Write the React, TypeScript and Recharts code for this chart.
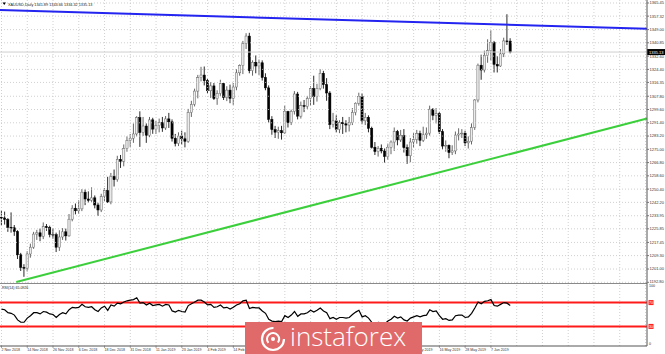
import React from "react";
import { ComposedChart, Bar, Line, XAxis, YAxis, ReferenceLine } from "recharts";

// ---------- data ----------
const opens = [
  1233.0, 1232.6, 1231.6, 1226.8, 1226.5, 1224.2, 1209.8, 1202.0, 1201.5, 1210.3,
  1214.5, 1222.6, 1223.4, 1221.2, 1227.2, 1226.6, 1222.5, 1222.2, 1214.5, 1220.8,
  1224.0, 1221.5, 1231.8, 1238.6, 1237.0, 1238.2, 1248.5, 1244.3, 1243.5, 1245.0,
  1240.6, 1237.5, 1245.8, 1249.5, 1242.5, 1258.3, 1256.2, 1268.8, 1267.6, 1275.5,
  1280.5, 1281.8, 1284.5, 1294.6, 1285.4, 1289.4, 1283.6, 1293.2, 1287.5, 1289.6,
  1291.5, 1288.2, 1293.8, 1292.0, 1281.8, 1278.6, 1283.2, 1281.5, 1280.0, 1297.8,
  1302.8, 1311.0, 1319.3, 1320.9, 1317.4, 1311.2, 1314.2, 1306.3, 1309.5, 1315.6,
  1307.0, 1311.6, 1306.5, 1313.5, 1322.3, 1326.8, 1340.4, 1345.0, 1323.6, 1328.8,
  1326.5, 1328.5, 1319.4, 1313.0, 1293.5, 1287.2, 1285.6, 1286.5, 1285.2, 1298.4,
  1291.5, 1298.5, 1309.2, 1295.5, 1302.0, 1301.5, 1306.4, 1312.5, 1307.5, 1312.6,
  1322.0, 1315.0, 1309.8, 1290.3, 1292.6, 1287.3, 1291.6, 1290.8, 1290.0, 1291.5,
  1297.8, 1303.5, 1307.8, 1292.6, 1294.8, 1288.0, 1276.3, 1273.6, 1275.6, 1274.0,
  1270.5, 1276.2, 1279.5, 1286.0, 1280.8, 1283.5, 1276.0, 1271.0, 1279.5, 1281.0,
  1284.8, 1280.6, 1284.0, 1285.0, 1299.8, 1296.0, 1297.0, 1286.0, 1277.0, 1277.5,
  1273.0, 1274.0, 1283.8, 1284.5, 1285.0, 1279.0, 1280.0, 1288.5, 1305.5, 1327.0,
  1324.0, 1333.0, 1336.0, 1341.0, 1327.5, 1326.5, 1334.0, 1342.0, 1341.89,
];
const highs = [
  1237.2, 1236.5, 1232.5, 1236.0, 1228.2, 1225.0, 1211.0, 1204.0, 1212.0, 1216.7,
  1224.0, 1225.2, 1226.0, 1229.8, 1228.8, 1227.8, 1226.2, 1223.5, 1225.0, 1226.3,
  1226.0, 1235.0, 1240.5, 1241.5, 1243.5, 1250.4, 1250.2, 1249.0, 1251.5, 1246.5,
  1242.0, 1247.5, 1251.0, 1258.0, 1260.4, 1262.5, 1271.0, 1271.5, 1278.0, 1283.0,
  1284.5, 1291.0, 1295.5, 1298.5, 1295.0, 1291.0, 1295.0, 1294.5, 1292.5, 1294.0,
  1295.0, 1295.6, 1297.5, 1293.5, 1284.5, 1285.5, 1286.5, 1285.5, 1300.0, 1305.0,
  1312.5, 1321.0, 1326.0, 1326.2, 1318.6, 1316.5, 1316.0, 1311.5, 1318.0, 1316.0,
  1314.0, 1315.0, 1316.0, 1324.5, 1327.5, 1342.0, 1346.8, 1347.0, 1330.0, 1333.0,
  1330.5, 1330.0, 1322.0, 1314.5, 1295.5, 1289.5, 1289.0, 1289.5, 1302.0, 1298.8,
  1299.5, 1311.0, 1310.5, 1304.5, 1305.5, 1308.0, 1314.0, 1320.5, 1315.5, 1324.5,
  1323.5, 1319.0, 1311.0, 1297.5, 1296.0, 1293.0, 1295.0, 1293.0, 1295.0, 1300.5,
  1304.0, 1310.0, 1309.5, 1297.5, 1296.0, 1289.0, 1279.5, 1277.0, 1278.0, 1275.5,
  1278.5, 1280.5, 1288.5, 1287.0, 1287.0, 1287.5, 1278.0, 1282.0, 1285.0, 1287.0,
  1286.5, 1289.0, 1288.5, 1302.0, 1300.5, 1300.5, 1298.0, 1287.5, 1280.5, 1278.0,
  1277.5, 1286.0, 1288.0, 1287.5, 1286.5, 1283.0, 1291.0, 1306.0, 1328.0, 1333.5,
  1336.0, 1343.0, 1348.5, 1342.0, 1332.5, 1337.0, 1344.0, 1358.5, 1343.66,
];
const lows = [
  1228.0, 1228.5, 1224.0, 1223.5, 1221.5, 1207.2, 1199.8, 1196.2, 1199.5, 1208.0,
  1213.5, 1219.0, 1218.2, 1219.5, 1224.6, 1220.6, 1219.8, 1211.5, 1212.2, 1219.0,
  1218.6, 1221.0, 1230.5, 1234.8, 1235.0, 1236.8, 1240.5, 1242.0, 1242.5, 1238.5,
  1233.8, 1236.2, 1243.0, 1241.8, 1241.0, 1252.0, 1255.0, 1263.5, 1264.5, 1273.5,
  1276.5, 1279.0, 1283.0, 1276.5, 1283.2, 1279.0, 1282.5, 1284.6, 1284.5, 1285.5,
  1285.8, 1287.0, 1288.2, 1279.8, 1276.8, 1277.0, 1278.0, 1276.2, 1279.0, 1295.0,
  1301.5, 1306.5, 1317.0, 1314.5, 1309.5, 1306.8, 1305.5, 1302.5, 1308.0, 1305.5,
  1304.8, 1303.5, 1302.5, 1311.5, 1320.5, 1321.5, 1337.0, 1322.0, 1320.5, 1322.0,
  1321.0, 1317.5, 1311.5, 1291.5, 1284.0, 1282.0, 1281.5, 1281.0, 1284.5, 1288.5,
  1290.0, 1296.5, 1293.5, 1294.0, 1298.0, 1300.0, 1302.0, 1302.5, 1304.5, 1311.5,
  1312.5, 1305.0, 1287.5, 1288.5, 1285.5, 1285.0, 1284.5, 1285.5, 1286.0, 1290.0,
  1296.0, 1302.0, 1290.5, 1290.0, 1285.5, 1275.5, 1271.5, 1270.5, 1272.5, 1266.8,
  1268.5, 1272.0, 1274.0, 1277.5, 1279.5, 1273.0, 1266.0, 1267.0, 1276.0, 1278.5,
  1277.0, 1279.5, 1281.5, 1283.5, 1293.0, 1291.0, 1284.5, 1275.0, 1273.5, 1269.5,
  1271.5, 1272.0, 1280.5, 1282.0, 1277.0, 1275.5, 1278.0, 1287.0, 1304.0, 1318.0,
  1322.5, 1328.5, 1330.0, 1322.5, 1322.5, 1326.0, 1332.0, 1339.5, 1334.32,
];
const closes = [
  1232.6, 1231.6, 1226.8, 1226.5, 1224.2, 1209.8, 1202.0, 1201.5, 1210.3, 1214.5,
  1222.6, 1223.4, 1221.2, 1227.2, 1226.6, 1222.5, 1222.2, 1214.5, 1220.8, 1224.0,
  1221.5, 1231.8, 1238.6, 1237.0, 1238.2, 1248.5, 1244.3, 1243.5, 1245.0, 1240.6,
  1237.5, 1245.8, 1249.5, 1242.5, 1258.3, 1256.2, 1268.8, 1267.6, 1275.5, 1280.5,
  1281.8, 1284.5, 1294.6, 1285.4, 1289.4, 1283.6, 1293.2, 1287.5, 1289.6, 1291.5,
  1288.2, 1293.8, 1292.0, 1281.8, 1278.6, 1283.2, 1281.5, 1280.0, 1297.8, 1302.8,
  1311.0, 1319.3, 1320.9, 1317.4, 1311.2, 1314.2, 1306.3, 1309.5, 1315.6, 1307.0,
  1311.6, 1306.5, 1313.5, 1322.3, 1326.8, 1340.4, 1345.0, 1323.6, 1328.8, 1326.5,
  1328.5, 1319.4, 1313.0, 1293.5, 1287.2, 1285.6, 1286.5, 1285.2, 1298.4, 1291.5,
  1298.5, 1309.2, 1295.5, 1302.0, 1301.5, 1306.4, 1312.5, 1307.5, 1312.6, 1322.0,
  1315.0, 1309.8, 1290.3, 1292.6, 1287.3, 1291.6, 1290.8, 1290.0, 1291.5, 1297.8,
  1303.5, 1307.8, 1292.6, 1294.8, 1288.0, 1276.3, 1273.6, 1275.6, 1274.0, 1270.5,
  1276.2, 1279.5, 1286.0, 1280.8, 1283.5, 1276.0, 1271.0, 1279.5, 1281.0, 1284.8,
  1280.6, 1284.0, 1285.0, 1299.8, 1296.0, 1297.0, 1286.0, 1277.0, 1277.5, 1273.0,
  1274.0, 1283.8, 1284.5, 1285.0, 1279.0, 1280.0, 1288.5, 1305.5, 1327.0, 1324.0,
  1333.0, 1336.0, 1341.0, 1327.5, 1326.5, 1334.0, 1342.0, 1341.5, 1335.13,
];
const rsiValues = [
  59, 58, 53, 52, 49, 41, 37, 37, 44, 48,
  53, 53, 51, 55, 54, 51, 50, 45, 50, 53,
  51, 58, 62, 61, 62, 67, 63, 62, 63, 58,
  55, 61, 64, 57, 66, 64, 69, 68, 71, 73,
  74, 75, 78, 69, 70, 66, 69, 65, 66, 67,
  64, 67, 66, 56, 54, 57, 55, 54, 65, 68,
  71, 74, 74, 71, 66, 67, 62, 63, 66, 61,
  62, 59, 62, 66, 68, 73, 74, 60, 62, 61,
  61, 56, 52, 42, 39, 38, 39, 38, 48, 45,
  49, 55, 47, 51, 51, 53, 57, 54, 57, 61,
  56, 53, 43, 45, 42, 45, 45, 44, 45, 50,
  54, 57, 46, 48, 44, 37, 35, 37, 36, 34,
  39, 42, 47, 44, 46, 41, 39, 44, 46, 48,
  46, 48, 49, 58, 55, 56, 48, 42, 43, 40,
  41, 48, 49, 49, 45, 46, 52, 61, 71, 68,
  72, 73, 75, 65, 64, 67, 70, 69, 65.09,
];

const dateTickIndex = [0, 8, 16, 24, 32, 40, 48, 56, 64, 72, 80, 88, 96, 104, 112, 120, 128, 136, 144, 152];
const dateTickLabels = [
  "2 Nov 2018", "14 Nov 2018", "26 Nov 2018", "6 Dec 2018", "18 Dec 2018", "31 Dec 2018",
  "11 Jan 2019", "23 Jan 2019", "4 Feb 2019", "14 Feb 2019", "26 Feb 2019", "8 Mar 2019",
  "20 Mar 2019", "1 Apr 2019", "11 Apr 2019", "24 Apr 2019", "6 May 2019", "16 May 2019",
  "28 May 2019", "7 Jun 2019",
];
const gridXIndex = [0, 8, 16, 24, 32, 40, 48, 56, 64, 72, 80, 88, 96, 104, 112, 120, 128, 136, 144, 152, 160, 168, 176, 184, 192, 200];
const priceTicks = [
  1365.45, 1357.32, 1349.0, 1340.85, 1332.6, 1324.4, 1316.35, 1307.8, 1299.6, 1291.4, 1283.2,
  1275.0, 1266.8, 1258.6, 1250.4, 1242.2, 1233.95, 1225.85, 1217.45, 1209.3, 1201.0, 1192.8,
];
const rsiTicks = [0, 30, 70, 100];
const rsiLevels = [70, 30];
const blueTrend = [{ x: -0.466, y: 1361.1 }, { x: 200.47, y: 1349.5 }];
const greenTrend = [{ x: 4.6, y: 1193.0 }, { x: 200.47, y: 1294.0 }];
const lastPrice = 1335.13;
const headerText = "XAUUSD,Daily  1341.89 1343.66 1334.32 1335.13";
const rsiHeader = "RSI(14) 65.0926";
const watermarkText = "instaforex";

const xDomain: [number, number] = [-0.466, 200.47];
const priceDomain: [number, number] = [1192.37, 1367.3];
const rsiDomain: [number, number] = [-2.85, 102.85];

// watermark box (page pixels)
const WM_LEFT = 245;
const WM_TOP = 322;
const WM_W = 177;
const WM_H = 32;

const rows = opens.map((o, i) => ({
  i,
  open: o,
  high: highs[i],
  low: lows[i],
  close: closes[i],
  range: [lows[i], highs[i]],
  rsi: rsiValues[i],
}));

const FONT = "'Liberation Sans', Arial, sans-serif";

const Candle = (props: any) => {
  const { x, y, width, height, payload } = props;
  if (x == null || y == null || !payload) return null;
  const top = Math.min(y, y + height);
  const bot = Math.max(y, y + height);
  const span = payload.high - payload.low;
  const k = span > 0 ? (bot - top) / span : 0;
  const yO = top + (payload.high - payload.open) * k;
  const yC = top + (payload.high - payload.close) * k;
  const cx = x + width / 2;
  const bull = payload.close >= payload.open;
  const bTop = Math.min(yO, yC);
  const bH = Math.max(Math.abs(yC - yO), 0.8);
  return (
    <g>
      <line x1={cx} x2={cx} y1={top} y2={bot} stroke={bull ? "#555" : "#111"} strokeWidth={0.9} />
      <rect
        x={cx - 1.1}
        y={bTop}
        width={2.2}
        height={bH}
        fill={bull ? "#ececec" : "#000"}
        stroke={bull ? "#666" : "#000"}
        strokeWidth={0.5}
      />
    </g>
  );
};

const PriceBox = (props: any) => {
  const vb = props.viewBox || {};
  const x = (vb.x || 0) + (vb.width || 0);
  const y = vb.y || 0;
  return (
    <g>
      <rect x={x} y={y - 3} width={18} height={6} fill="#000" />
      <text x={x + 2} y={y + 1.5} fontSize={4} fill="#fff" fontFamily={FONT}>
        {lastPrice.toFixed(2)}
      </text>
    </g>
  );
};

const PriceTick = (props: any) => {
  const { x, y, payload } = props;
  const isBottom = payload.value === priceTicks[priceTicks.length - 1];
  return (
    <text x={x} y={y + (isBottom ? 0.6 : 1.4)} fontSize={4} fill="#333" fontFamily={FONT}>
      {Number(payload.value).toFixed(2)}
    </text>
  );
};

const RsiTick = (props: any) => {
  const { x, y, payload } = props;
  const v = payload.value;
  if (v === 30 || v === 70) {
    return (
      <g>
        <rect x={x - 0.5} y={y - 2.5} width={5} height={5} fill="#ff2020" />
        <text x={x} y={y + 1.4} fontSize={3.6} fill="#fff" fontFamily={FONT}>{v}</text>
      </g>
    );
  }
  const dy = v === 100 ? 2.6 : 0.6;
  return (
    <text x={x} y={y + dy} fontSize={3.6} fill="#333" fontFamily={FONT}>{v}</text>
  );
};

const DateTick = (props: any) => {
  const { x, payload } = props;
  const idx = dateTickIndex.indexOf(payload.value);
  const label = idx >= 0 ? dateTickLabels[idx] : "";
  // labels lying completely behind the watermark box are not visible in the reference
  const approxW = label.length * 1.9;
  const hidden = x >= WM_LEFT && x + approxW <= WM_LEFT + WM_W;
  return (
    <g>
      <line x1={x} x2={x} y1={63} y2={65} stroke="#666" strokeWidth={0.6} />
      {!hidden && (
        <text x={x} y={67.5} fontSize={3.6} fill="#333" fontFamily={FONT}>{label}</text>
      )}
    </g>
  );
};

export default function App() {
  return (
    <div
      style={{
        position: "absolute",
        left: 0,
        top: 0,
        width: 665,
        height: 354,
        background: "#fff",
        overflow: "hidden",
        fontFamily: FONT,
      }}
    >
      <div style={{ position: "absolute", left: 0, top: 0 }}>
        <ComposedChart width={665} height={287} data={rows} margin={{ top: 0, right: 0, bottom: 4, left: 0 }}>
          <XAxis type="number" dataKey="i" domain={xDomain} hide allowDataOverflow height={0} />
          <YAxis
            orientation="right"
            width={18}
            domain={priceDomain}
            ticks={priceTicks}
            interval={0}
            allowDataOverflow
            tickSize={2}
            tickMargin={0.5}
            axisLine={{ stroke: "#555" }}
            tickLine={{ stroke: "#777" }}
            tick={<PriceTick />}
          />
          {priceTicks.map((p) => (
            <ReferenceLine key={"h" + p} y={p} stroke="#c4c4c4" strokeDasharray="1 2" strokeWidth={0.8} />
          ))}
          {gridXIndex.map((g) => (
            <ReferenceLine key={"v" + g} x={g} stroke="#c4c4c4" strokeDasharray="1 2" strokeWidth={0.8} />
          ))}
          <ReferenceLine y={lastPrice} stroke="#cfcfcf" strokeWidth={1} label={<PriceBox />} />
          <Bar dataKey="range" barSize={3} shape={<Candle />} isAnimationActive={false} />
          <ReferenceLine segment={blueTrend} stroke="#2424f0" strokeWidth={2} ifOverflow="visible" />
          <ReferenceLine segment={greenTrend} stroke="#3ccf3c" strokeWidth={2} ifOverflow="visible" />
        </ComposedChart>
      </div>

      <div style={{ position: "absolute", left: 0, top: 282.5, width: 647, height: 1.5, background: "#8a8a8a" }} />

      <div style={{ position: "absolute", left: 0, top: 283 }}>
        <ComposedChart width={665} height={71} data={rows} margin={{ top: 0, right: 0, bottom: 0, left: 0 }}>
          <XAxis
            type="number"
            dataKey="i"
            domain={xDomain}
            ticks={dateTickIndex}
            interval={0}
            height={8}
            allowDataOverflow
            axisLine={{ stroke: "#555" }}
            tickLine={false}
            tick={<DateTick />}
          />
          <YAxis
            orientation="right"
            width={18}
            domain={rsiDomain}
            ticks={rsiTicks}
            interval={0}
            allowDataOverflow
            tickSize={1}
            tickMargin={1}
            axisLine={{ stroke: "#555" }}
            tickLine={false}
            tick={<RsiTick />}
          />
          {gridXIndex.map((g) => (
            <ReferenceLine key={"rv" + g} x={g} stroke="#c4c4c4" strokeDasharray="1 2" strokeWidth={0.8} />
          ))}
          {rsiLevels.map((l) => (
            <ReferenceLine key={"lv" + l} y={l} stroke="#ff1a1a" strokeWidth={2} />
          ))}
          <Line
            type="linear"
            dataKey="rsi"
            stroke="#000"
            strokeWidth={1.2}
            dot={false}
            isAnimationActive={false}
          />
        </ComposedChart>
      </div>

      <svg
        width={665}
        height={354}
        style={{ position: "absolute", left: 0, top: 0, pointerEvents: "none" }}
      >
        <path d="M2.5 2.5 L6 2.5 L4.25 5 Z" fill="#000" />
        <text x={8} y={5.5} fontSize={3.8} fill="#222" fontFamily={FONT}>{headerText}</text>
        <text x={2} y={289} fontSize={3.6} fill="#222" fontFamily={FONT}>{rsiHeader}</text>
      </svg>

      <div
        style={{
          position: "absolute",
          left: WM_LEFT,
          top: WM_TOP,
          width: WM_W,
          height: WM_H,
          background: "#e06a6a",
          overflow: "visible",
        }}
      >
        <svg width={WM_W} height={WM_H} overflow="visible" style={{ position: "absolute", left: 0, top: 0, overflow: "visible" }}>
          <circle cx={28} cy={17} r={11} fill="none" stroke="#fff" strokeWidth={2.2} strokeDasharray="52 17" />
          <circle cx={28} cy={17} r={6} fill="none" stroke="#fff" strokeWidth={2} strokeDasharray="26 12" transform="rotate(140 28 17)" />
          <circle cx={28} cy={17} r={2} fill="#fff" />
          <text x={45} y={24} fontSize={26} fill="#fff" fontFamily="'Open Sans', sans-serif" fontWeight={300}>
            {watermarkText}
          </text>
        </svg>
      </div>
    </div>
  );
}
